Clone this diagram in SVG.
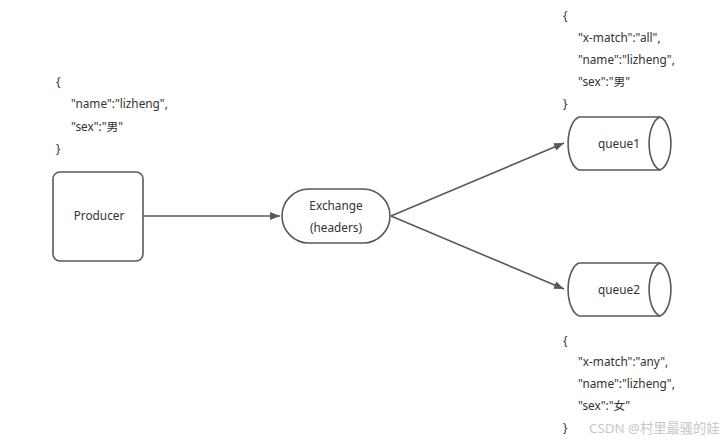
<svg xmlns="http://www.w3.org/2000/svg" width="728" height="442" viewBox="0 0 728 442">
<defs>
<style>
.t{font-family:"Noto Sans","Noto Sans CJK SC",sans-serif;font-size:11.8px;fill:#333}
.c{text-anchor:middle}
.s{fill:#fff;stroke:#595959;stroke-width:1.6}
.e{fill:none;stroke:#595959;stroke-width:1.6}
.wm{font-family:"Noto Sans","Noto Sans CJK SC",sans-serif;font-size:13.3px;fill:#c8c8c8}
</style>
<marker id="arr" viewBox="0 0 10 10" refX="10" refY="5" markerWidth="10" markerHeight="10" markerUnits="userSpaceOnUse" orient="auto">
<path d="M0,1 L10,5 L0,9 Z" fill="#595959"/>
</marker>
</defs>
<rect width="728" height="442" fill="#fff"/>
<g id="connectors">
<line class="e" x1="143" y1="216" x2="280" y2="216" marker-end="url(#arr)"/>
<line class="e" x1="391" y1="216" x2="564" y2="143" marker-end="url(#arr)"/>
<line class="e" x1="391" y1="216" x2="564" y2="289" marker-end="url(#arr)"/>
</g>
<g id="producer-json">
<text class="t" x="56" y="86">{</text>
<text class="t" x="71" y="108">"name":"lizheng",</text>
<text class="t" x="71" y="131">"sex":"男"</text>
<text class="t" x="56" y="153">}</text>
</g>
<g id="producer">
<rect class="s" x="53" y="172" width="90" height="89" rx="7"/>
<text class="t c" x="99" y="220">Producer</text>
</g>
<g id="exchange">
<rect class="s" x="282" y="189" width="108" height="54" rx="27"/>
<text class="t c" x="336" y="210">Exchange</text>
<text class="t c" x="336" y="232">(headers)</text>
</g>
<g id="queue1">
<path class="s" d="M579,117 L660,117 A13.5,27 0 0 1 660,170 L579,170 A13.5,27 0 0 1 579,117 Z"/>
<path class="e" d="M660,117 A13.5,27 0 0 0 660,170"/>
<text class="t c" x="619" y="148">queue1</text>
</g>
<g id="queue1-json">
<text class="t" x="563" y="20">{</text>
<text class="t" x="578" y="42">"x-match":"all",</text>
<text class="t" x="578" y="64">"name":"lizheng",</text>
<text class="t" x="578" y="86">"sex":"男"</text>
<text class="t" x="563" y="108">}</text>
</g>
<g id="queue2">
<path class="s" d="M579,263 L660,263 A13.5,27 0 0 1 660,316 L579,316 A13.5,27 0 0 1 579,263 Z"/>
<path class="e" d="M660,263 A13.5,27 0 0 0 660,316"/>
<text class="t c" x="619" y="294">queue2</text>
</g>
<g id="queue2-json">
<text class="t" x="563" y="345">{</text>
<text class="t" x="578" y="366">"x-match":"any",</text>
<text class="t" x="578" y="388">"name":"lizheng",</text>
<text class="t" x="578" y="410">"sex":"女"</text>
<text class="t" x="563" y="432">}</text>
</g>
<text class="wm" x="589" y="433">CSDN @村里最骚的娃</text>
</svg>
